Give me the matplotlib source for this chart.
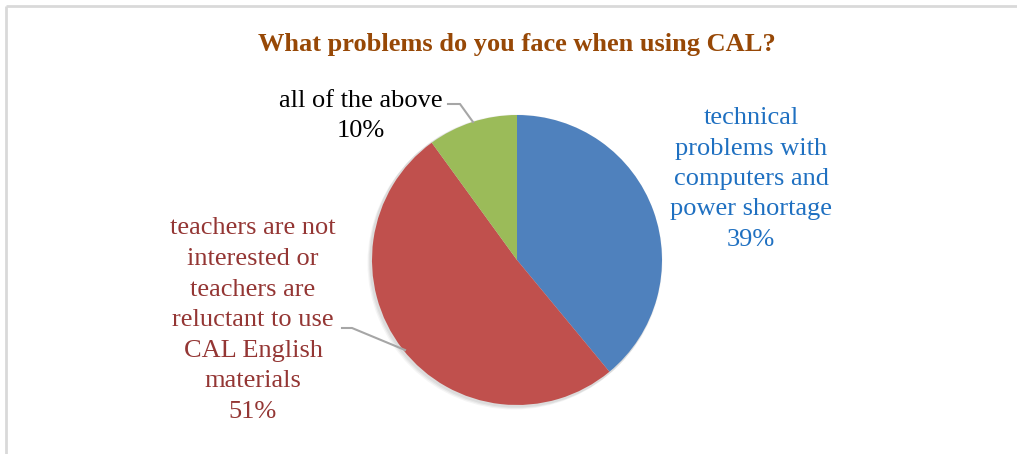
import matplotlib.pyplot as plt
from matplotlib.patches import Circle

categories = [
    "technical\nproblems with\ncomputers and\npower shortage",
    "teachers are not\ninterested or\nteachers are\nreluctant to use\nCAL English\nmaterials",
    "all of the above",
]
shares = [39, 51, 10]
slice_colors = ["#4F81BD", "#C0504D", "#9BBB59"]
label_colors = ["#1F70C1", "#943634", "#000000"]

plt.rcParams["font.family"] = ["Liberation Serif", "DejaVu Serif"]

W, H = 1017, 454
fig = plt.figure(figsize=(W / 100, H / 100), dpi=100)
ax = fig.add_axes([0, 0, 1, 1])

cx, cy, r = 517, H - 260, 145

# soft shadow under the pie
for i, a in enumerate([0.05, 0.05, 0.04]):
    ax.add_patch(Circle((cx - 1 - i, cy - 1 - i), r + 1.5, color="#000000", alpha=a, lw=0, zorder=1))

ax.pie(shares, colors=slice_colors, startangle=90, counterclock=False,
       center=(cx, cy), radius=r, frame=True,
       wedgeprops=dict(linewidth=0, zorder=2))
ax.set_xlim(0, W)
ax.set_ylim(0, H)
ax.set_aspect("equal")
ax.axis("off")

# chart border (top and left edges)
ax.plot([6, W], [H - 6, H - 6], color="#D9D9D9", lw=2, solid_capstyle="butt")
ax.plot([6, 6], [0, H - 6], color="#D9D9D9", lw=2, solid_capstyle="butt")

ax.text(517, H - 45, "What problems do you face when using CAL?", ha="center", va="center",
        fontsize=19, fontweight="bold", color="#974806")

label_pos = [(751, H - 179), (253, H - 320), (361, H - 116)]
for cat, val, col, (lx, ly) in zip(categories, shares, label_colors, label_pos):
    ax.text(lx, ly, f"{cat}\n{val}%", ha="center", va="center", fontsize=19,
            color=col, linespacing=1.5)

# leader lines
lead = "#A6A6A6"
ax.plot([448, 460, 473], [H - 104, H - 104, H - 122], color=lead, lw=1.5)
ax.plot([342, 352, 405], [H - 328, H - 328, H - 350], color=lead, lw=1.5)

fig.savefig("out.png", dpi=100)
